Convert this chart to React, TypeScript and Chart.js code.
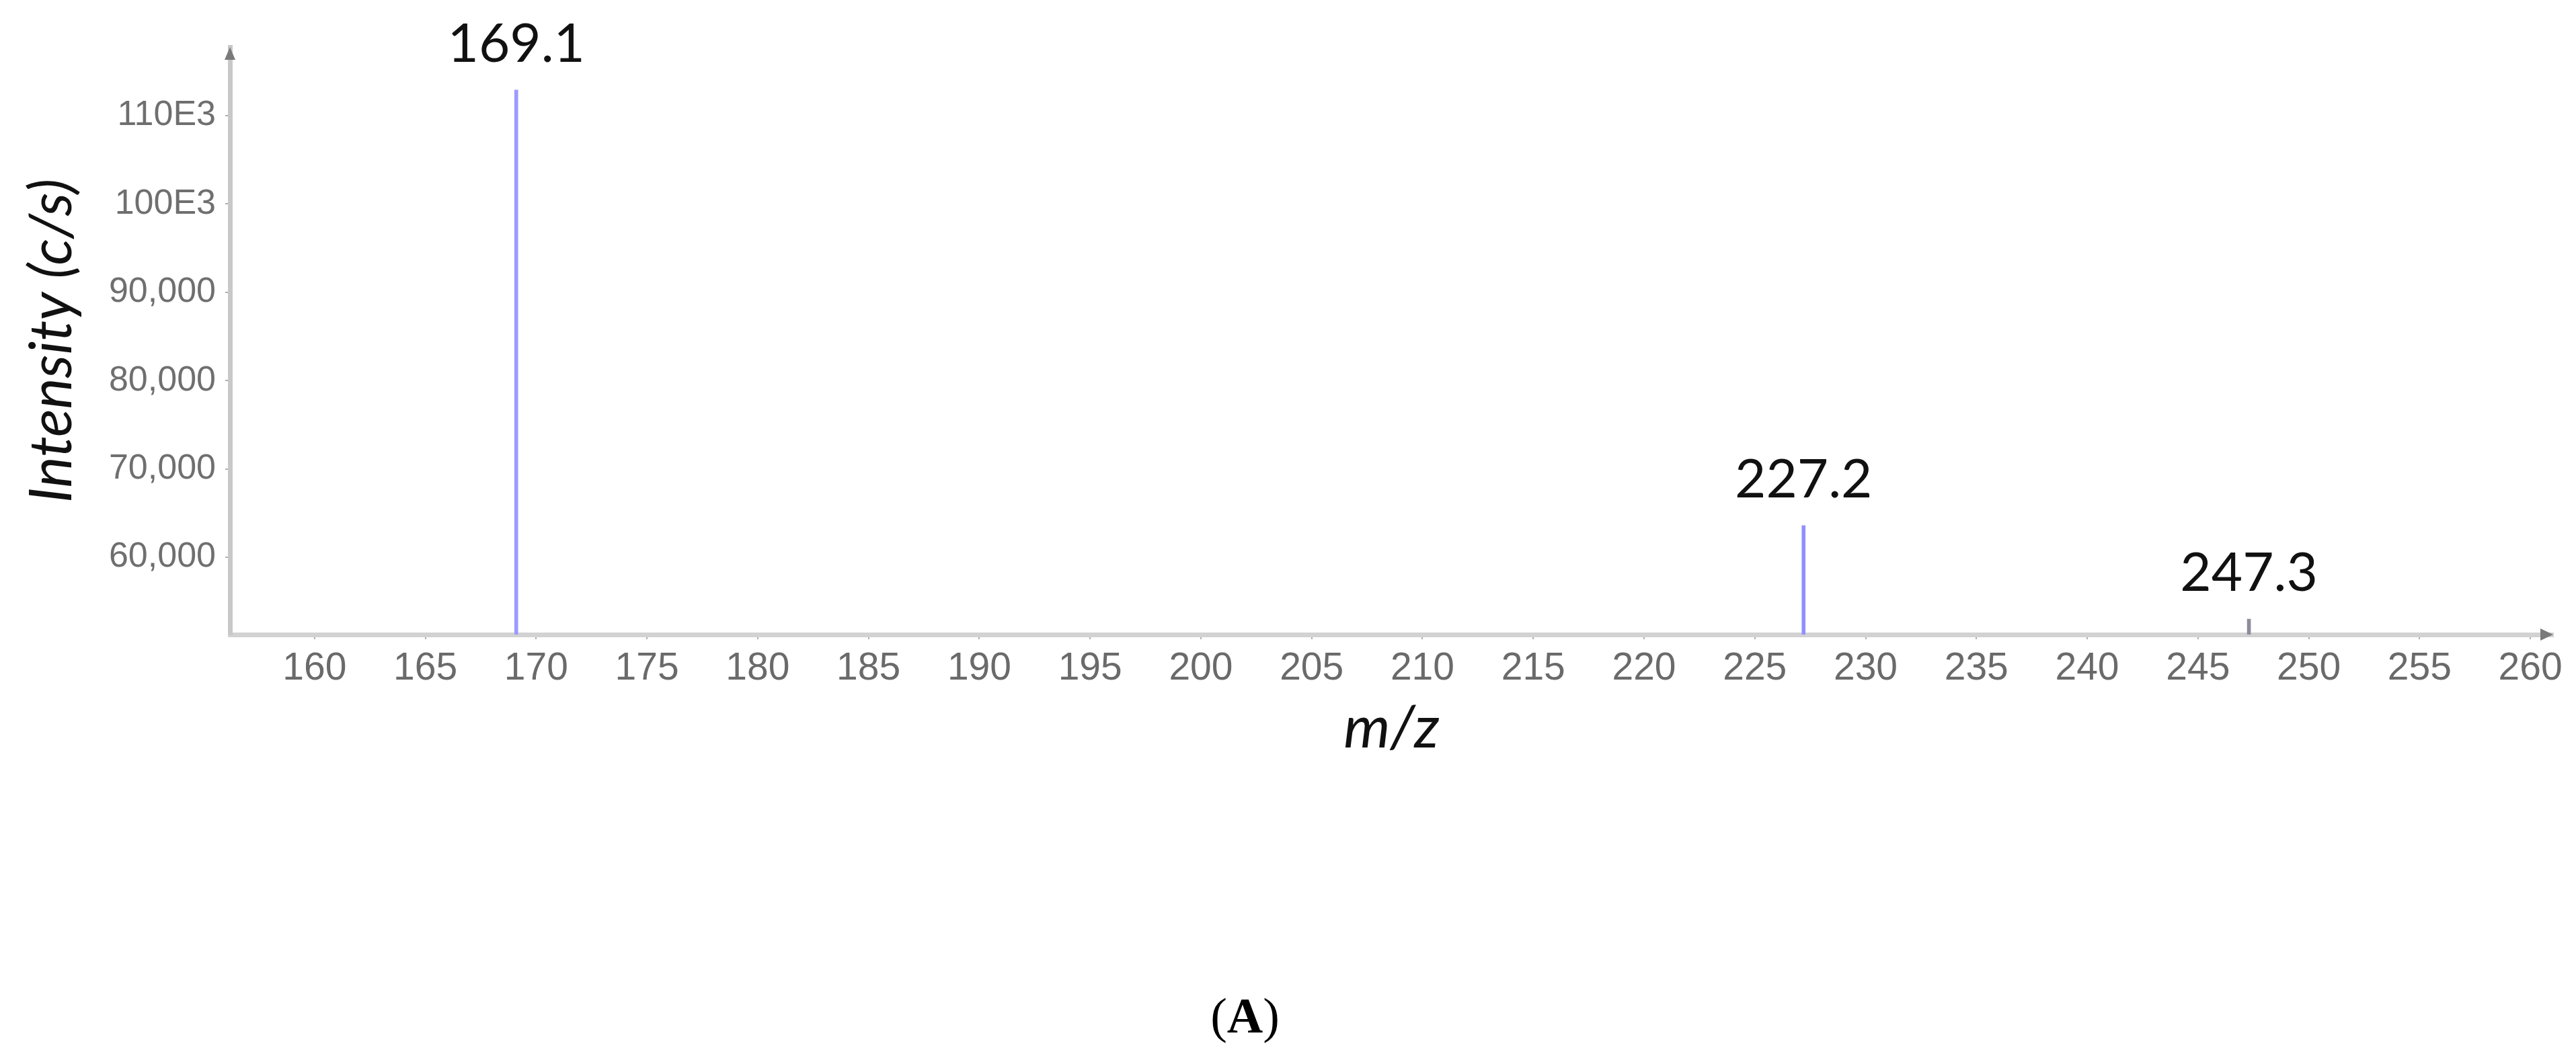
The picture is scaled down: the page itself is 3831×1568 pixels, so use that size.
import React, { useEffect, useRef } from "react";
import { Chart, registerables } from "chart.js";

Chart.register(...registerables);

// ---- data ----
const peakMz = [169.1, 227.2, 247.3];
const peakIntensity = [112900, 63600, 53000];
const peakLabels = ["169.1", "227.2", "247.3"];
const xTickValues = [160, 165, 170, 175, 180, 185, 190, 195, 200, 205, 210, 215, 220, 225, 230, 235, 240, 245, 250, 255, 260];
const yTickValues = [60000, 70000, 80000, 90000, 100000, 110000];
const yTickLabels = ["60,000", "70,000", "80,000", "90,000", "100E3", "110E3"];
const xRange = [156.18, 261.03];
const yRange = [51250, 117760];
const xTitle = "m/z";
const yTitle = "Intensity (c/s)";
const caption = "A";

const W = 3831;
const H = 1568;

export default function App() {
  const ref = useRef<HTMLCanvasElement | null>(null);

  useEffect(() => {
    document.body.style.margin = "0";
    const canvas = ref.current;
    if (!canvas) return;

    const overlay = {
      id: "overlay",
      afterDatasetsDraw(chart: any) {
        const ctx = chart.ctx;
        const xs = chart.scales.x;
        const ys = chart.scales.y;
        ctx.save();
        ctx.fillStyle = "#111";
        ctx.font = "80px Lato, 'Open Sans', sans-serif";
        ctx.textAlign = "center";
        ctx.textBaseline = "alphabetic";
        peakMz.forEach((mz, i) => {
          const px = xs.getPixelForValue(mz);
          const py = ys.getPixelForValue(peakIntensity[i]);
          ctx.fillText(peakLabels[i], px, py - 42);
        });
        ctx.restore();
      },
      afterDraw(chart: any) {
        const ctx = chart.ctx;
        const a = chart.chartArea;
        ctx.save();
        ctx.fillStyle = "#7a7a7a";
        // y arrow
        ctx.beginPath();
        ctx.moveTo(a.left, a.top);
        ctx.lineTo(a.left - 8, a.top + 19);
        ctx.lineTo(a.left + 8, a.top + 19);
        ctx.closePath();
        ctx.fill();
        // x arrow
        ctx.beginPath();
        ctx.moveTo(a.right, a.bottom);
        ctx.lineTo(a.right - 19, a.bottom - 9);
        ctx.lineTo(a.right - 19, a.bottom + 9);
        ctx.closePath();
        ctx.fill();
        // caption (A)
        ctx.fillStyle = "#000";
        ctx.textBaseline = "alphabetic";
        ctx.textAlign = "left";
        const reg = "74px 'Liberation Serif', 'Times New Roman', serif";
        const bold = "bold 74px 'Liberation Serif', 'Times New Roman', serif";
        ctx.font = reg;
        const wp = ctx.measureText("(").width;
        const wp2 = ctx.measureText(")").width;
        ctx.font = bold;
        const wa = ctx.measureText(caption).width;
        const total = wp + wa + wp2;
        let cx = (a.left + a.right) / 2 - 218 - total / 2;
        const by = 1536;
        ctx.font = reg;
        ctx.fillText("(", cx, by);
        cx += wp;
        ctx.font = bold;
        ctx.fillText(caption, cx, by);
        cx += wa;
        ctx.font = reg;
        ctx.fillText(")", cx, by);
        ctx.restore();
      },
    };

    const chart = new Chart(canvas, {
      type: "bar",
      data: {
        datasets: [
          {
            data: peakMz.map((x, i) => ({ x, y: [yRange[0], peakIntensity[i]] })) as any,
            backgroundColor: ["#9b9bff", "#9090ff", "#8c8c9a"],
            borderWidth: 0,
            barThickness: 5,
            grouped: false,
          } as any,
        ],
      },
      options: {
        animation: false,
        responsive: false,
        devicePixelRatio: 1,
        layout: { padding: { left: 0, top: 70, right: W - 3797, bottom: 0 } },
        plugins: { legend: { display: false }, tooltip: { enabled: false }, title: { display: false } },
        scales: {
          x: {
            type: "linear",
            offset: false,
            min: xRange[0],
            max: xRange[1],
            afterBuildTicks: (s: any) => {
              s.ticks = xTickValues.map((v) => ({ value: v }));
            },
            afterFit: (s: any) => {
              s.height = H - 944;
            },
            grid: { display: true, offset: false, drawOnChartArea: false, drawTicks: true, tickLength: 7, color: "#b0b0b0", lineWidth: 2 },
            border: { display: true, color: "#d2d2d2", width: 7 },
            ticks: {
              autoSkip: false,
              maxRotation: 0,
              padding: 10,
              color: "#6a6a6a",
              font: { family: "'Liberation Sans Narrow', 'Liberation Sans', sans-serif", size: 57 },
              callback: (v: any) => String(v),
            },
            title: {
              display: true,
              text: xTitle,
              color: "#111",
              font: { family: "Lato, 'Open Sans', sans-serif", size: 88, style: "italic" },
              padding: { top: 0, bottom: 432 },
            },
          },
          y: {
            type: "linear",
            min: yRange[0],
            max: yRange[1],
            afterBuildTicks: (s: any) => {
              s.ticks = yTickValues.map((v) => ({ value: v }));
            },
            afterFit: (s: any) => {
              s.width = 342;
            },
            grid: { display: true, drawOnChartArea: false, drawTicks: true, tickLength: 7, color: "#b0b0b0", lineWidth: 2 },
            border: { display: true, color: "#c8c8c8", width: 7 },
            ticks: {
              padding: 14,
              color: "#6f6f6f",
              font: { family: "'Liberation Sans', Arial, sans-serif", size: 52 },
              callback: (v: any) => {
                const i = yTickValues.indexOf(Number(v));
                return i >= 0 ? yTickLabels[i] : "";
              },
            },
            title: {
              display: true,
              text: yTitle,
              color: "#111",
              font: { family: "Lato, 'Open Sans', sans-serif", size: 87, style: "italic" },
              padding: { top: 26, bottom: 0 },
            },
          },
        },
      },
      plugins: [overlay],
    } as any);

    return () => chart.destroy();
  }, []);

  return <canvas ref={ref} width={W} height={H} style={{ display: "block", width: W + "px", height: H + "px" }} />;
}
